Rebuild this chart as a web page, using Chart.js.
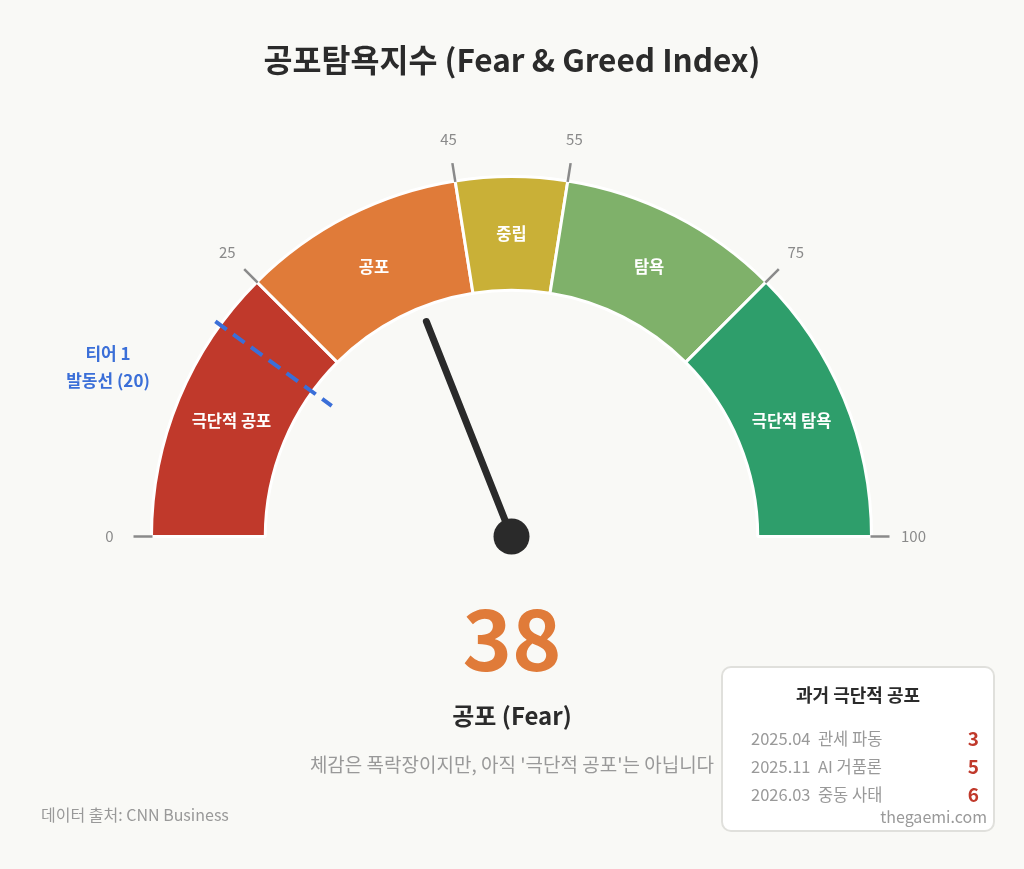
<!DOCTYPE html>
<html><head><meta charset="utf-8">
<script src="https://cdn.jsdelivr.net/npm/chart.js@4/dist/chart.umd.min.js"></script>
<style>
body{margin:0;background:#f9f9f6;font-family:"Noto Sans CJK KR","Noto Sans",sans-serif;}
#wrap{position:relative;width:1024px;height:869px;overflow:hidden;background:#f9f9f6}
canvas{position:absolute;left:0;top:0}
.t{position:absolute;white-space:nowrap;line-height:1}
#title{left:0;width:1024px;top:43px;text-align:center;font-size:31.5px;font-weight:700;color:#2b2b2b}
#big{left:0;width:1024px;top:593px;text-align:center;font-size:84px;font-weight:700;color:#e07b39}
#zone{left:0;width:1024px;top:703px;text-align:center;font-size:24px;font-weight:700;color:#2b2b2b}
#sub{left:0;width:1024px;top:754px;text-align:center;font-size:19px;color:#999}
#src{left:41px;top:806px;font-size:16px;color:#999}
#tier{left:48px;width:120px;text-align:center;top:339px;font-size:17px;font-weight:700;color:#3b6fd8;line-height:27px}
#box{position:absolute;left:721px;top:666px;width:270px;height:162px;background:#fff;border:2px solid #e0e0dc;border-radius:10px}
#boxTitle{left:0;width:270px;top:17px;text-align:center;font-size:18px;font-weight:700;color:#2b2b2b}
.row{left:28px;width:228px;font-size:16.5px;color:#999}
.row .v{position:absolute;right:0;top:-2px;font-size:19px;font-weight:700;color:#c0392b}
#site{right:6px;top:140px;font-size:16px;color:#999}
</style></head><body>
<div id="wrap">
<canvas id="c" width="1024" height="869"></canvas>
<div class="t" id="title">공포탐욕지수 (Fear &amp; Greed Index)</div>
<div class="t" id="big"></div>
<div class="t" id="zone"></div>
<div class="t" id="sub">체감은 폭락장이지만, 아직 '극단적 공포'는 아닙니다</div>
<div class="t" id="src">데이터 출처: CNN Business</div>
<div class="t" id="tier">티어 1<br>발동선 (20)</div>
<div id="box"><div class="t" id="boxTitle">과거 극단적 공포</div><div id="rows"></div><div class="t" id="site">thegaemi.com</div></div>
</div>
<script>
// ---- data ----
const segmentLabels = ['극단적 공포', '공포', '중립', '탐욕', '극단적 탐욕'];
const segmentBounds = [0, 25, 45, 55, 75, 100];
const segmentColors = ['#c0392b', '#e07b39', '#c9b037', '#7fb16a', '#2e9e6b'];
const tickValues = [0, 25, 45, 55, 75, 100];
const currentValue = 38;
const currentZone = '공포 (Fear)';
const tierValue = 20;
const historyDates = ['2025.04', '2025.11', '2026.03'];
const historyEvents = ['관세 파동', 'AI 거품론', '중동 사태'];
const historyValues = [3, 5, 6];

const segmentSizes = segmentBounds.slice(1).map((b, i) => b - segmentBounds[i]);
document.getElementById('big').textContent = currentValue;
document.getElementById('zone').textContent = currentZone;
const rows = document.getElementById('rows');
historyDates.forEach((d, i) => {
  const r = document.createElement('div');
  r.className = 't row';
  r.style.top = (62 + i * 28) + 'px';
  r.innerHTML = d + '&nbsp; ' + historyEvents[i] + '<span class="v">' + historyValues[i] + '</span>';
  rows.appendChild(r);
});

const FONT = '"Noto Sans CJK KR","Noto Sans",sans-serif';
const gaugePlugin = {
  id: 'gauge',
  afterDatasetsDraw(chart) {
    const ctx = chart.ctx;
    const arcs = chart.getDatasetMeta(0).data;
    const a0 = arcs[0];
    const cx = a0.x, cy = a0.y, R = a0.outerRadius, r = a0.innerRadius;
    const total = segmentBounds[segmentBounds.length - 1];
    const ang = v => Math.PI + (v / total) * Math.PI;
    ctx.save();
    // ticks
    ctx.strokeStyle = '#8a8a8a'; ctx.lineWidth = 2.5;
    ctx.fillStyle = '#8a8a8a';
    ctx.font = '15px ' + FONT;
    ctx.textAlign = 'center'; ctx.textBaseline = 'middle';
    tickValues.forEach(v => {
      const t = ang(v), c = Math.cos(t), s = Math.sin(t);
      ctx.beginPath();
      ctx.moveTo(cx + c * (R - 1), cy + s * (R - 1));
      ctx.lineTo(cx + c * (R + 18), cy + s * (R + 18));
      ctx.stroke();
      ctx.fillText(String(v), cx + c * (R + 42), cy + s * (R + 42));
    });
    // segment labels
    ctx.fillStyle = '#ffffff';
    ctx.font = 'bold 16.5px ' + FONT;
    arcs.forEach((a, i) => {
      const m = (a.startAngle + a.endAngle) / 2;
      const rr = (a.innerRadius + a.outerRadius) / 2;
      ctx.fillText(segmentLabels[i], cx + Math.cos(m) * rr, cy + Math.sin(m) * rr);
    });
    // tier line
    const tt = ang(tierValue);
    ctx.strokeStyle = '#3b6fd8'; ctx.lineWidth = 4;
    ctx.setLineDash([14, 8]);
    ctx.beginPath();
    ctx.moveTo(cx + Math.cos(tt) * (R + 6), cy + Math.sin(tt) * (R + 6));
    ctx.lineTo(cx + Math.cos(tt) * (r - 24), cy + Math.sin(tt) * (r - 24));
    ctx.stroke();
    ctx.setLineDash([]);
    // needle
    const nt = ang(currentValue);
    ctx.strokeStyle = '#2a2a2a'; ctx.lineWidth = 7; ctx.lineCap = 'round';
    ctx.beginPath();
    ctx.moveTo(cx, cy);
    ctx.lineTo(cx + Math.cos(nt) * (r - 15), cy + Math.sin(nt) * (r - 15));
    ctx.stroke();
    ctx.fillStyle = '#2a2a2a';
    ctx.beginPath(); ctx.arc(cx, cy, 18, 0, Math.PI * 2); ctx.fill();
    ctx.restore();
  }
};

new Chart(document.getElementById('c'), {
  type: 'doughnut',
  data: {
    labels: segmentLabels,
    datasets: [{
      data: segmentSizes,
      backgroundColor: segmentColors,
      borderColor: '#ffffff',
      borderWidth: 3
    }]
  },
  options: {
    responsive: false,
    animation: false,
    events: [],
    rotation: -90,
    circumference: 180,
    radius: 360,
    cutout: '68.4%',
    layout: { padding: { left: 0, right: 1, top: 0, bottom: 156 } },
    plugins: { legend: { display: false }, tooltip: { enabled: false }, title: { display: false } }
  },
  plugins: [gaugePlugin]
});
</script>
</body></html>
